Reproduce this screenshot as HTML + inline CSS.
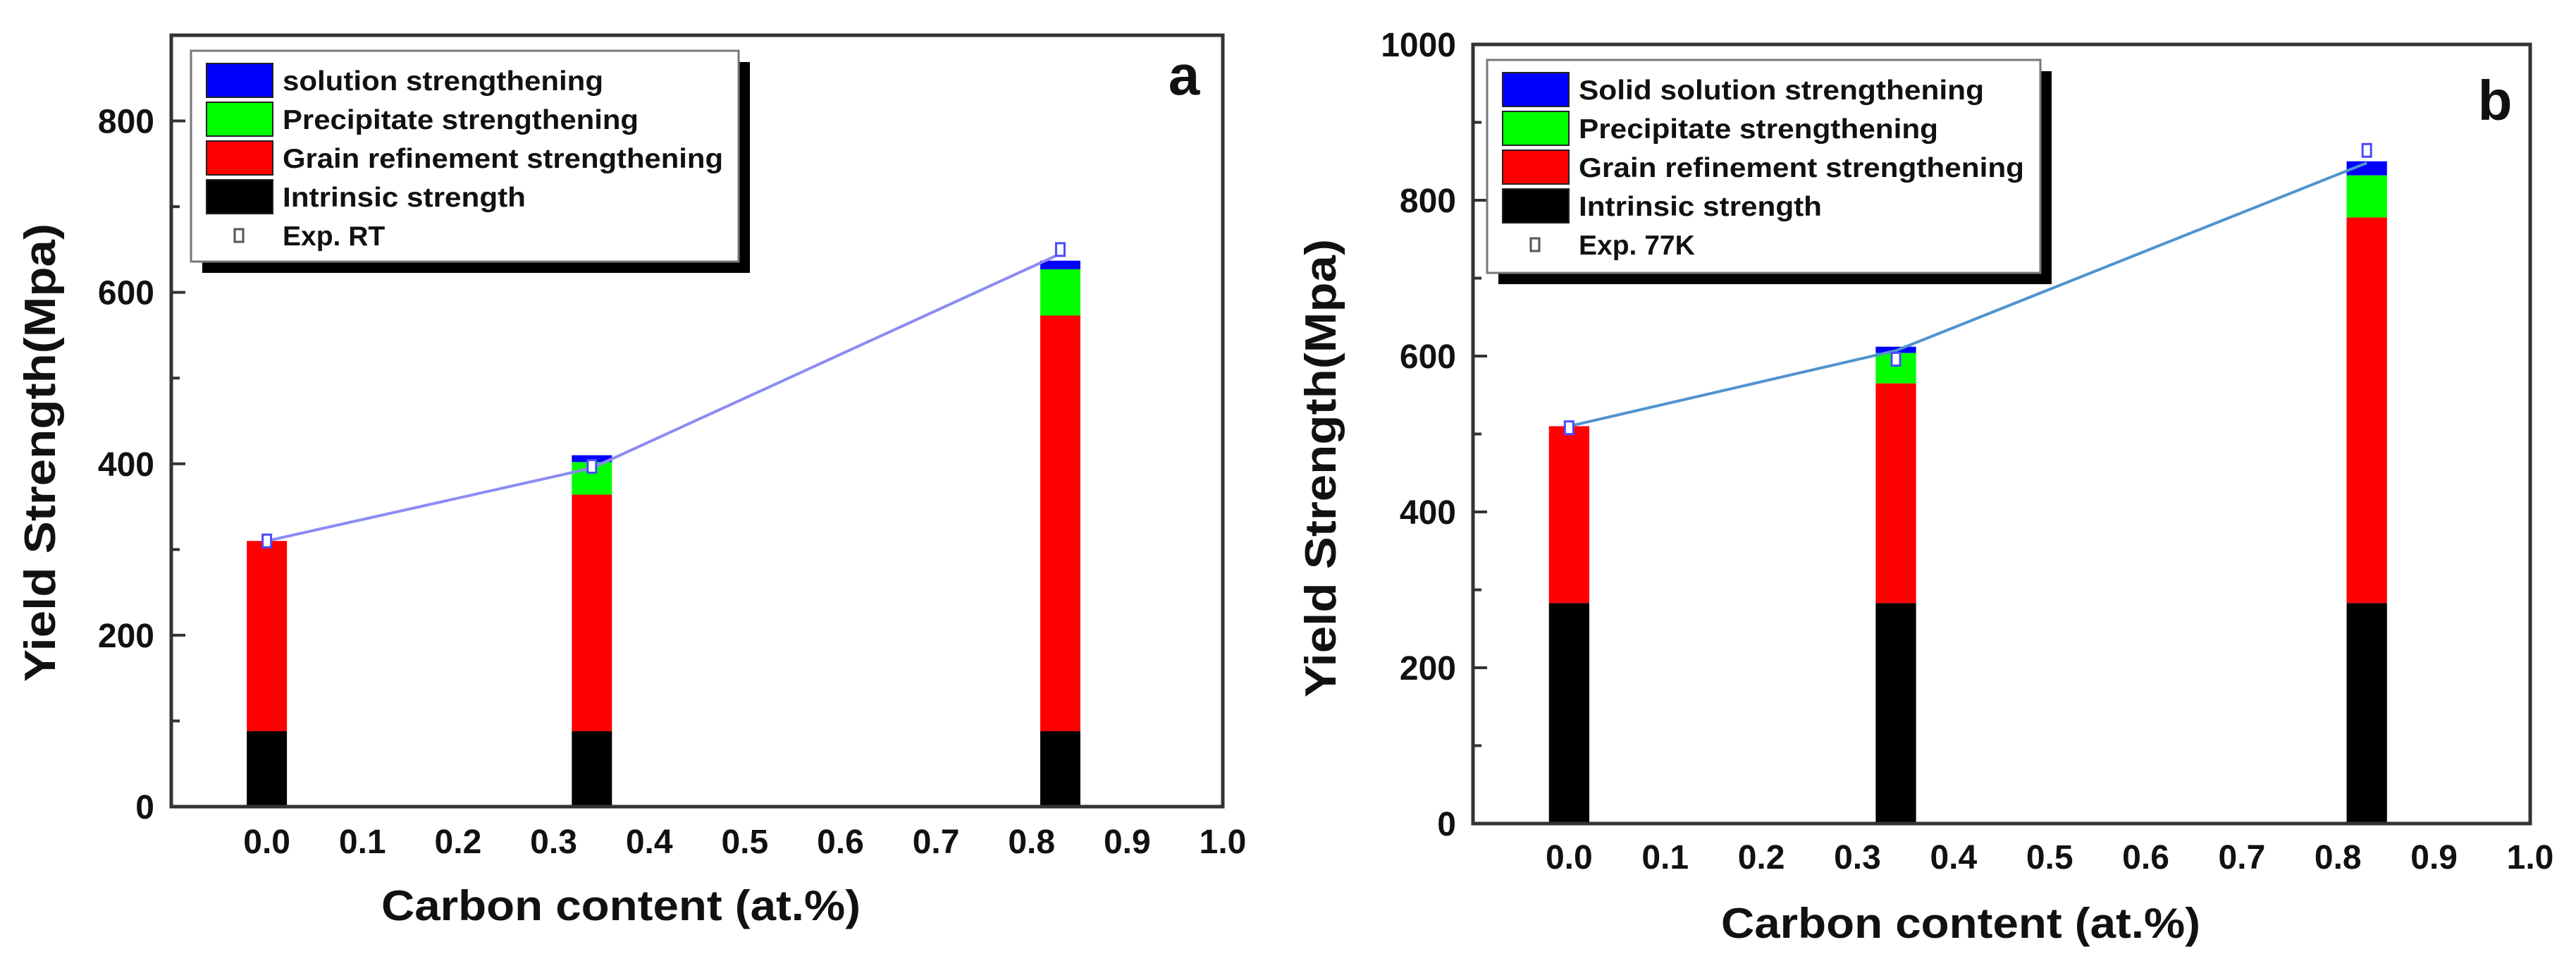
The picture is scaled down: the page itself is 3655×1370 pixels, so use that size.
<!DOCTYPE html>
<html><head><meta charset="utf-8"><style>
html,body{margin:0;padding:0;background:#fff;}
svg{display:block;font-family:"Liberation Sans",Arial,sans-serif;}
</style></head><body>
<svg id="fig" width="3655" height="1370" viewBox="0 0 3655 1370" xmlns="http://www.w3.org/2000/svg">
<rect width="3655" height="1370" fill="#fff"/>
</svg>
<script>
// ---- data ----
const carbonX = [0.0, 0.34, 0.83];
const xTicks = [0.0,0.1,0.2,0.3,0.4,0.5,0.6,0.7,0.8,0.9,1.0];
const xTickLabels = ["0.0","0.1","0.2","0.3","0.4","0.5","0.6","0.7","0.8","0.9","1.0"];
const seriesNames = ["Intrinsic strength","Grain refinement strengthening","Precipitate strengthening","solution strengthening"];
const seriesColors = ["#000000","#ff0000","#00ff00","#0000ff"];
// panel a (RT) stacked components
const aIntrinsic = [88, 88, 88];
const aGrain = [222, 276, 485];
const aPrecip = [0, 38, 54];
const aSolution = [0, 8, 10];
const aExp = [310, 397, 650];
const aLine = [310, 395, 645];
const aYTicks = [0, 200, 400, 600, 800];
const aYTickLabels = ["0","200","400","600","800"];
// panel b (77K)
const bIntrinsic = [283, 283, 283];
const bGrain = [227, 282, 495];
const bPrecip = [0, 39, 54];
const bSolution = [0, 8, 18];
const bExp = [508, 596, 864];
const bLine = [510, 607, 848];
const bYTicks = [0, 200, 400, 600, 800, 1000];
const bYTickLabels = ["0","200","400","600","800","1000"];

const NS = "http://www.w3.org/2000/svg";
const svg = document.getElementById('fig');
function mk(tag, attrs, parent, text){
  const e = document.createElementNS(NS, tag);
  for (const k in attrs) e.setAttribute(k, attrs[k]);
  if (text !== undefined) e.textContent = text;
  (parent||svg).appendChild(e);
  return e;
}

function panel(cfg){
  const g = mk('g', {});
  
  
  const L=cfg.L, R=cfg.R, T=cfg.T, B=cfg.B;
  const xs = v => L + (v - (-0.1)) / 1.1 * (R - L);
  const ys = v => B - v / cfg.ymax * (B - T);
  const stacks = [cfg.intr, cfg.grain, cfg.prec, cfg.sol];
  const bw = 0.042 / 1.1 * (R - L);
  // bars
  carbonX.forEach((cx, i) => {
    let base = 0;
    stacks.forEach((s, k) => {
      const v = s[i];
      if (v > 0) {
        const r = mk('rect', {x: xs(cx) - bw/2, y: ys(base + v), width: bw, height: ys(base) - ys(base + v), fill: seriesColors[k]}, g);
        
        
      }
      base += v;
    });
  });
  // line
  const pts = carbonX.map((cx,i)=> xs(cx)+','+ys(cfg.line[i])).join(' ');
  const pl = mk('polyline', {points: pts, fill:'none', stroke: cfg.lineColor, 'stroke-width': 4}, g);
  
  
  // exp markers
  carbonX.forEach((cx,i)=>{
    const m = mk('rect', {x: xs(cx)-6, y: ys(cfg.exp[i])-9, width: 12, height: 18, fill:'#fff', stroke:'#4a4aff', 'stroke-width': 3}, g);
    
    
  });
  // frame
  const fr = mk('rect', {x: L, y: T, width: R-L, height: B-T, fill:'none', stroke:'#333', 'stroke-width': 5}, g);
  
  
  // y ticks
  cfg.yTicks.forEach((v, i) => {
    mk('line', {x1: L, x2: L+20, y1: ys(v), y2: ys(v), stroke:'#333', 'stroke-width': 4}, g);
    if (i < cfg.yTicks.length-1) {
      const mv = (v + cfg.yTicks[i+1]) / 2;
      mk('line', {x1: L, x2: L+12, y1: ys(mv), y2: ys(mv), stroke:'#333', 'stroke-width': 4}, g);
    }
    const t = mk('text', {x: L - 24, y: ys(v) + 17, 'text-anchor':'end', 'font-size': 48, 'font-weight':'bold', fill:'#111'}, g, cfg.yLabels[i]);
    
    
  });
  // x tick labels
  xTicks.forEach((v, i) => {
    const t = mk('text', {x: xs(v), y: cfg.xLabelY, 'text-anchor':'middle', 'font-size': 48, 'font-weight':'bold', fill:'#111'}, g, xTickLabels[i]);
    
    
  });
  // axis titles
  const xt = mk('text', {x: cfg.xtX, y: cfg.xtY, 'text-anchor':'middle', 'font-size': 60, 'font-weight':'bold', fill:'#111', textLength: 680, lengthAdjust:'spacingAndGlyphs'}, g, 'Carbon content (at.%)');
  
  
  const yt = mk('text', {x: 0, y: 0, 'text-anchor':'middle', 'font-size': 62, 'font-weight':'bold', fill:'#111', textLength: 650, lengthAdjust:'spacingAndGlyphs', transform: 'translate(' + cfg.ytX + ',' + cfg.ytY + ') rotate(-90)'}, g, 'Yield Strength(Mpa)');
  
  
  // panel letter
  const pl2 = mk('text', {x: cfg.letX, y: cfg.letY, 'text-anchor':'middle', 'font-size': 80, 'font-weight':'bold', fill:'#111'}, g, cfg.letter);
  
  
  // legend
  const lg = mk('g', {}, g);
  
  
  const lx = cfg.leg[0], ly = cfg.leg[1], lw = cfg.leg[2], lh = cfg.leg[3];
  mk('rect', {x: lx+16, y: ly+16, width: lw, height: lh, fill:'#000'}, lg);
  mk('rect', {x: lx, y: ly, width: lw, height: lh, fill:'#fff', stroke:'#777', 'stroke-width': 3}, lg);
  const names = cfg.names;
  const order = [3,2,1,0];
  order.forEach((k, r) => {
    const yy = ly + 42 + r * 55;
    const e = mk('g', {}, lg);
    
    
    mk('rect', {x: lx+22, y: yy-24, width: 94, height: 48, fill: seriesColors[k], stroke:'#222', 'stroke-width': 2}, e);
    mk('text', {x: lx+130, y: yy+14, 'font-size': 39, 'font-weight':'bold', fill:'#111', textLength: cfg.tl[r], lengthAdjust:'spacingAndGlyphs'}, e, names[r]);
  });
  const yy = ly + 42 + 4*55;
  const e = mk('g', {}, lg);
  
  
  mk('rect', {x: lx+62, y: yy-9, width: 12, height: 18, fill:'#fff', stroke:'#555', 'stroke-width': 3}, e);
  mk('text', {x: lx+130, y: yy+14, 'font-size': 39, 'font-weight':'bold', fill:'#111'}, e, cfg.expName);
}

panel({id:'panel-a', L:243, R:1735, T:50, B:1144, ymax:900,
  intr:aIntrinsic, grain:aGrain, prec:aPrecip, sol:aSolution, exp:aExp, line:aLine,
  lineColor:'#8b8bf5', yTicks:aYTicks, yLabels:aYTickLabels, xLabelY:1210,
  xtX:881, xtY:1305, ytX:78, ytY:642, letX:1680, letY:134, letter:'a',
  leg:[271,72,777,299],
  names:['solution strengthening','Precipitate strengthening','Grain refinement strengthening','Intrinsic strength'],
  tl:[455,505,625,345], expName:'Exp. RT'});
panel({id:'panel-b', L:2090, R:3590, T:63, B:1168, ymax:1000,
  intr:bIntrinsic, grain:bGrain, prec:bPrecip, sol:bSolution, exp:bExp, line:bLine,
  lineColor:'#4f93cf', yTicks:bYTicks, yLabels:bYTickLabels, xLabelY:1232,
  xtX:2782, xtY:1330, ytX:1895, ytY:664, letX:3540, letY:170, letter:'b',
  leg:[2110,85,785,302],
  names:['Solid solution strengthening','Precipitate strengthening','Grain refinement strengthening','Intrinsic strength'],
  tl:[575,510,632,345], expName:'Exp. 77K'});
</script>
</body></html>
